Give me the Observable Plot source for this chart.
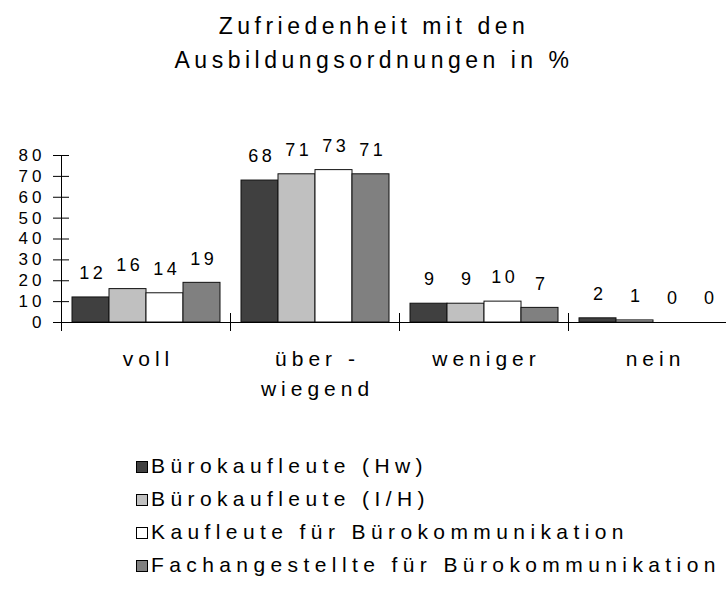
<!DOCTYPE html>
<html>
<head>
<meta charset="utf-8">
<script src="https://cdn.jsdelivr.net/npm/d3@7"></script>
<script src="https://cdn.jsdelivr.net/npm/@observablehq/plot@0.6"></script>
<style>
  html, body { margin: 0; padding: 0; background: #fff; }
  body { width: 726px; height: 598px; overflow: hidden; font-family: "Liberation Sans", Arial, sans-serif; color: #000; }
  #title { width: 726px; height: 100px; box-sizing: border-box; padding-top: 9px; padding-left: 22px; text-align: center; font-size: 23px; line-height: 34px; letter-spacing: 4.5px; }
  #chart { height: 320px; }
  #chart svg { display: block; }
  #legend { padding-top: 29px; padding-left: 136px; font-size: 21px; line-height: 33px; letter-spacing: 5.4px; }
  #legend .row { height: 33px; white-space: nowrap; }
  #legend .sw { display: inline-block; width: 10px; height: 10px; border: 1px solid #000; margin-right: 3px; vertical-align: 0px; }
</style>
</head>
<body>
<div id="title">Zufriedenheit mit den<br>Ausbildungsordnungen in %</div>
<div id="chart"></div>
<div id="legend"></div>
<script>
const categories = ["voll", "über -\nwiegend", "weniger", "nein"];
const series = [
  "Bürokaufleute (Hw)",
  "Bürokaufleute (I/H)",
  "Kaufleute für Bürokommunikation",
  "Fachangestellte für Bürokommunikation"
];
const colors = ["#404040", "#c0c0c0", "#ffffff", "#808080"];
const valuesHw  = [12, 68, 9, 2];
const valuesIH  = [16, 71, 9, 1];
const valuesKfB = [14, 73, 10, 0];
const valuesFfB = [19, 71, 7, 0];
const yTicks = [0, 10, 20, 30, 40, 50, 60, 70, 80];

const seriesValues = [valuesHw, valuesIH, valuesKfB, valuesFfB];
const data = [];
categories.forEach((c, i) => {
  series.forEach((s, j) => {
    data.push({category: c, series: s, value: seriesValues[j][i]});
  });
});

const chart = Plot.plot({
  width: 726,
  height: 320,
  marginLeft: 60,
  marginRight: -12,
  marginTop: 55,
  marginBottom: 98,
  style: {fontFamily: "Liberation Sans, Arial, sans-serif", background: "#fff", overflow: "hidden"},
  fx: {domain: categories, padding: 0, axis: null},
  x: {domain: series, paddingInner: 0, paddingOuter: 0.26, axis: null},
  y: {domain: [0, 80], axis: null},
  color: {domain: series, range: colors},
  marks: [
    Plot.barY(data, {fx: "category", x: "series", y: "value", fill: "series", stroke: "#111", strokeWidth: 1}),
    Plot.ruleY([0], {stroke: "#000", strokeWidth: 1}),
    Plot.frame({anchor: "left", facetAnchor: "left", insetBottom: -8, stroke: "#000"}),
    Plot.frame({anchor: "left", insetTop: 158, insetBottom: -8, stroke: "#000"}),
    Plot.axisY({ticks: yTicks, tickSize: 16, dx: 8, tickFormat: () => "", label: null, stroke: "#000"}),
    Plot.axisY({ticks: yTicks, tickSize: 0, tickPadding: 16, dx: 0, label: null, fontSize: 17, fill: "#000"}),
    Plot.text(data, {fx: "category", x: "series", y: "value", text: d => String(d.value), dy: -24, dx: 1.75, fontSize: 18, fill: "#000"}),
    Plot.text(categories, {fx: d => d, text: d => d, frameAnchor: "bottom", lineAnchor: "top", dy: 22, dx: 2.5, fontSize: 21, lineHeight: 1.43, fill: "#000"})
  ]
});
document.getElementById("chart").appendChild(chart);

// letter spacing per text group (the reference uses widely spaced characters)
const root = d3.select(chart);
root.selectAll('g[aria-label="y-axis tick label"]').style("letter-spacing", "4px");
const textGroups = root.selectAll('g[aria-label="text"]').nodes();
if (textGroups[0]) d3.select(textGroups[0]).style("letter-spacing", "3.5px");
if (textGroups[1]) d3.select(textGroups[1]).style("letter-spacing", "5px");

const legend = document.getElementById("legend");
series.forEach((s, j) => {
  const row = document.createElement("div");
  row.className = "row";
  const sw = document.createElement("span");
  sw.className = "sw";
  sw.style.background = colors[j];
  row.appendChild(sw);
  row.appendChild(document.createTextNode(s));
  legend.appendChild(row);
});
</script>
</body>
</html>
